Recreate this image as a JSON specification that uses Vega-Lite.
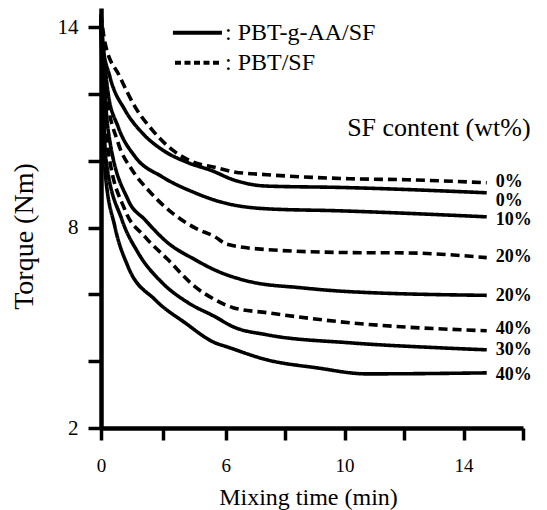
{
  "$schema": "https://vega.github.io/schema/vega-lite/v6.json",
  "width": 422,
  "height": 420,
  "autosize": "none",
  "padding": {"left": 101, "top": 8, "right": 24, "bottom": 82},
  "background": "white",
  "config": {
    "view": {"stroke": null},
    "axis": {"grid": false, "domainColor": "black", "tickColor": "black", "labelColor": "black", "titleColor": "black", "labelFont": "'Liberation Serif', 'DejaVu Serif', serif", "titleFont": "'Liberation Serif', 'DejaVu Serif', serif", "titleFontWeight": "normal"}
  },
  "datasets": {
    "curves": [
      {"type": "PBT/SF", "sf": "0%", "t": 0, "torque": 14.4},
      {"type": "PBT/SF", "sf": "0%", "t": 0.19, "torque": 13.53},
      {"type": "PBT/SF", "sf": "0%", "t": 0.91, "torque": 12.51},
      {"type": "PBT/SF", "sf": "0%", "t": 1.64, "torque": 11.61},
      {"type": "PBT/SF", "sf": "0%", "t": 2.45, "torque": 10.93},
      {"type": "PBT/SF", "sf": "0%", "t": 3.42, "torque": 10.33},
      {"type": "PBT/SF", "sf": "0%", "t": 4.52, "torque": 9.94},
      {"type": "PBT/SF", "sf": "0%", "t": 5.34, "torque": 9.82},
      {"type": "PBT/SF", "sf": "0%", "t": 6.25, "torque": 9.67},
      {"type": "PBT/SF", "sf": "0%", "t": 7.39, "torque": 9.58},
      {"type": "PBT/SF", "sf": "0%", "t": 8.5, "torque": 9.52},
      {"type": "PBT/SF", "sf": "0%", "t": 10.17, "torque": 9.46},
      {"type": "PBT/SF", "sf": "0%", "t": 12.09, "torque": 9.43},
      {"type": "PBT/SF", "sf": "0%", "t": 14.78, "torque": 9.34},

      {"type": "PBT-g-AA/SF", "sf": "0%", "t": 0, "torque": 14.37},
      {"type": "PBT-g-AA/SF", "sf": "0%", "t": 0.05, "torque": 13.62},
      {"type": "PBT-g-AA/SF", "sf": "0%", "t": 0.43, "torque": 12.51},
      {"type": "PBT-g-AA/SF", "sf": "0%", "t": 1.15, "torque": 11.52},
      {"type": "PBT-g-AA/SF", "sf": "0%", "t": 1.97, "torque": 10.84},
      {"type": "PBT-g-AA/SF", "sf": "0%", "t": 2.94, "torque": 10.33},
      {"type": "PBT-g-AA/SF", "sf": "0%", "t": 4.19, "torque": 9.94},
      {"type": "PBT-g-AA/SF", "sf": "0%", "t": 5.34, "torque": 9.7},
      {"type": "PBT-g-AA/SF", "sf": "0%", "t": 6.25, "torque": 9.43},
      {"type": "PBT-g-AA/SF", "sf": "0%", "t": 7.39, "torque": 9.24},
      {"type": "PBT-g-AA/SF", "sf": "0%", "t": 9.84, "torque": 9.2},
      {"type": "PBT-g-AA/SF", "sf": "0%", "t": 14.78, "torque": 9.04},

      {"type": "PBT-g-AA/SF", "sf": "10%", "t": 0, "torque": 14.28},
      {"type": "PBT-g-AA/SF", "sf": "10%", "t": 0.14, "torque": 13.2},
      {"type": "PBT-g-AA/SF", "sf": "10%", "t": 0.34, "torque": 12.03},
      {"type": "PBT-g-AA/SF", "sf": "10%", "t": 0.82, "torque": 11.02},
      {"type": "PBT-g-AA/SF", "sf": "10%", "t": 1.64, "torque": 10.12},
      {"type": "PBT-g-AA/SF", "sf": "10%", "t": 2.94, "torque": 9.52},
      {"type": "PBT-g-AA/SF", "sf": "10%", "t": 4.52, "torque": 9.04},
      {"type": "PBT-g-AA/SF", "sf": "10%", "t": 5.73, "torque": 8.77},
      {"type": "PBT-g-AA/SF", "sf": "10%", "t": 7.39, "torque": 8.56},
      {"type": "PBT-g-AA/SF", "sf": "10%", "t": 9.84, "torque": 8.5},
      {"type": "PBT-g-AA/SF", "sf": "10%", "t": 14.78, "torque": 8.32},

      {"type": "PBT/SF", "sf": "20%", "t": 0, "torque": 14.28},
      {"type": "PBT/SF", "sf": "20%", "t": 0.24, "torque": 12.12},
      {"type": "PBT/SF", "sf": "20%", "t": 0.82, "torque": 10.54},
      {"type": "PBT/SF", "sf": "20%", "t": 1.49, "torque": 9.73},
      {"type": "PBT/SF", "sf": "20%", "t": 2.26, "torque": 9.13},
      {"type": "PBT/SF", "sf": "20%", "t": 3.42, "torque": 8.44},
      {"type": "PBT/SF", "sf": "20%", "t": 4.52, "torque": 7.99},
      {"type": "PBT/SF", "sf": "20%", "t": 5.49, "torque": 7.72},
      {"type": "PBT/SF", "sf": "20%", "t": 6.04, "torque": 7.5},
      {"type": "PBT/SF", "sf": "20%", "t": 7.39, "torque": 7.34},
      {"type": "PBT/SF", "sf": "20%", "t": 10.17, "torque": 7.25},
      {"type": "PBT/SF", "sf": "20%", "t": 12.09, "torque": 7.24},
      {"type": "PBT/SF", "sf": "20%", "t": 14.78, "torque": 7.1},

      {"type": "PBT-g-AA/SF", "sf": "20%", "t": 0, "torque": 14.22},
      {"type": "PBT-g-AA/SF", "sf": "20%", "t": 0.34, "torque": 10.93},
      {"type": "PBT-g-AA/SF", "sf": "20%", "t": 1.3, "torque": 8.83},
      {"type": "PBT-g-AA/SF", "sf": "20%", "t": 2.12, "torque": 8.23},
      {"type": "PBT-g-AA/SF", "sf": "20%", "t": 3.22, "torque": 7.54},
      {"type": "PBT-g-AA/SF", "sf": "20%", "t": 4.52, "torque": 7.04},
      {"type": "PBT-g-AA/SF", "sf": "20%", "t": 5.58, "torque": 6.7},
      {"type": "PBT-g-AA/SF", "sf": "20%", "t": 6.82, "torque": 6.38},
      {"type": "PBT-g-AA/SF", "sf": "20%", "t": 8.5, "torque": 6.2},
      {"type": "PBT-g-AA/SF", "sf": "20%", "t": 10.17, "torque": 6.08},
      {"type": "PBT-g-AA/SF", "sf": "20%", "t": 14.78, "torque": 5.97},

      {"type": "PBT/SF", "sf": "40%", "t": 0, "torque": 14.16},
      {"type": "PBT/SF", "sf": "40%", "t": 0.34, "torque": 10.33},
      {"type": "PBT/SF", "sf": "40%", "t": 1.15, "torque": 8.53},
      {"type": "PBT/SF", "sf": "40%", "t": 2.12, "torque": 7.72},
      {"type": "PBT/SF", "sf": "40%", "t": 3.22, "torque": 7.04},
      {"type": "PBT/SF", "sf": "40%", "t": 4.52, "torque": 6.23},
      {"type": "PBT/SF", "sf": "40%", "t": 5.49, "torque": 5.84},
      {"type": "PBT/SF", "sf": "40%", "t": 6.25, "torque": 5.6},
      {"type": "PBT/SF", "sf": "40%", "t": 7.39, "torque": 5.45},
      {"type": "PBT/SF", "sf": "40%", "t": 10.17, "torque": 5.15},
      {"type": "PBT/SF", "sf": "40%", "t": 14.78, "torque": 4.91},

      {"type": "PBT-g-AA/SF", "sf": "30%", "t": 0, "torque": 14.16},
      {"type": "PBT-g-AA/SF", "sf": "30%", "t": 0.24, "torque": 10.03},
      {"type": "PBT-g-AA/SF", "sf": "30%", "t": 1.01, "torque": 8.23},
      {"type": "PBT-g-AA/SF", "sf": "30%", "t": 1.78, "torque": 7.25},
      {"type": "PBT-g-AA/SF", "sf": "30%", "t": 2.94, "torque": 6.35},
      {"type": "PBT-g-AA/SF", "sf": "30%", "t": 4.19, "torque": 5.75},
      {"type": "PBT-g-AA/SF", "sf": "30%", "t": 5.49, "torque": 5.33},
      {"type": "PBT-g-AA/SF", "sf": "30%", "t": 6.25, "torque": 5.03},
      {"type": "PBT-g-AA/SF", "sf": "30%", "t": 7.39, "torque": 4.79},
      {"type": "PBT-g-AA/SF", "sf": "30%", "t": 10.17, "torque": 4.55},
      {"type": "PBT-g-AA/SF", "sf": "30%", "t": 13.2, "torque": 4.4},
      {"type": "PBT-g-AA/SF", "sf": "30%", "t": 14.78, "torque": 4.34},

      {"type": "PBT-g-AA/SF", "sf": "40%", "t": 0, "torque": 14.16},
      {"type": "PBT-g-AA/SF", "sf": "40%", "t": 0.19, "torque": 9.73},
      {"type": "PBT-g-AA/SF", "sf": "40%", "t": 0.67, "torque": 8.02},
      {"type": "PBT-g-AA/SF", "sf": "40%", "t": 1.3, "torque": 6.83},
      {"type": "PBT-g-AA/SF", "sf": "40%", "t": 2.6, "torque": 5.84},
      {"type": "PBT-g-AA/SF", "sf": "40%", "t": 4.04, "torque": 5.15},
      {"type": "PBT-g-AA/SF", "sf": "40%", "t": 5.49, "torque": 4.55},
      {"type": "PBT-g-AA/SF", "sf": "40%", "t": 6.04, "torque": 4.43},
      {"type": "PBT-g-AA/SF", "sf": "40%", "t": 7.39, "torque": 4.04},
      {"type": "PBT-g-AA/SF", "sf": "40%", "t": 9.07, "torque": 3.8},
      {"type": "PBT-g-AA/SF", "sf": "40%", "t": 10.74, "torque": 3.62},
      {"type": "PBT-g-AA/SF", "sf": "40%", "t": 14.78, "torque": 3.65}
    ],
    "labels": [
      {"label": "0%", "t": 14.78, "torque": 9.37},
      {"label": "0%", "t": 14.78, "torque": 8.8},
      {"label": "10%", "t": 14.78, "torque": 8.22},
      {"label": "20%", "t": 14.78, "torque": 7.13},
      {"label": "20%", "t": 14.78, "torque": 5.94},
      {"label": "40%", "t": 14.78, "torque": 4.95},
      {"label": "30%", "t": 14.78, "torque": 4.32},
      {"label": "40%", "t": 14.78, "torque": 3.59}
    ],
    "legend": [
      {"type": "PBT-g-AA/SF", "t1": 3.46, "t2": 5.82, "torque": 13.83, "text": ": PBT-g-AA/SF"},
      {"type": "PBT/SF", "t1": 3.56, "t2": 5.82, "torque": 12.93, "text": ": PBT/SF"}
    ],
    "note": [
      {"text": "SF content (wt%)", "t": 13.17, "torque": 10.99}
    ]
  },
  "resolve": {"scale": {"strokeDash": "independent"}},
  "layer": [
    {
      "data": {"name": "curves"},
      "mark": {"type": "line", "color": "black", "strokeWidth": 3.6, "strokeCap": "butt", "strokeJoin": "round", "interpolate": "monotone"},
      "encoding": {
        "x": {
          "field": "t", "type": "quantitative",
          "scale": {"domain": [0, 6, 16], "range": [0, 124.7, 422], "nice": false, "zero": false},
          "axis": {
            "title": "Mixing time (min)",
            "values": [0, 3, 6, 8, 10, 12, 14, 16],
            "labelExpr": "(datum.value == 0 || datum.value == 6 || datum.value == 10 || datum.value == 14) ? datum.label : ''",
            "domainWidth": 4.5, "tickWidth": 3.5, "tickSize": 12,
            "labelFontSize": 19, "labelPadding": 16, "labelFlush": false,
            "titleFontSize": 24, "titleX": 207, "titleY": 69, "titleBaseline": "middle", "titleAlign": "center"
          }
        },
        "y": {
          "field": "torque", "type": "quantitative",
          "scale": {"domain": [2, 14.57], "nice": false, "zero": false},
          "axis": {
            "title": "Torque (Nm)",
            "values": [2, 4, 6, 8, 10, 12, 14],
            "labelExpr": "(datum.value == 2 || datum.value == 8 || datum.value == 14) ? datum.label : ''",
            "domainWidth": 4.5, "tickWidth": 3.5, "tickSize": 13,
            "labelFontSize": 21, "labelPadding": 10, "labelFlush": false,
            "titleFontSize": 28, "titleAngle": -90, "titleX": -77, "titleY": 228, "titleBaseline": "middle", "titleAlign": "center"
          }
        },
        "detail": {"field": "sf"},
        "strokeDash": {
          "field": "type", "type": "nominal",
          "scale": {"domain": ["PBT-g-AA/SF", "PBT/SF"], "range": [[1, 0], [9, 5]]},
          "legend": null
        }
      }
    },
    {
      "data": {"name": "legend"},
      "mark": {"type": "rule", "color": "black", "strokeWidth": 4, "strokeCap": "butt"},
      "encoding": {
        "x": {"field": "t1", "type": "quantitative"},
        "x2": {"field": "t2"},
        "y": {"field": "torque", "type": "quantitative"},
        "strokeDash": {
          "field": "type", "type": "nominal",
          "scale": {"domain": ["PBT-g-AA/SF", "PBT/SF"], "range": [[1, 0], [6, 3.5]]},
          "legend": null
        }
      }
    },
    {
      "data": {"name": "legend"},
      "mark": {"type": "text", "align": "left", "baseline": "middle", "dx": 3, "font": "'Liberation Serif', 'DejaVu Serif', serif", "fontSize": 24, "color": "black"},
      "encoding": {
        "x": {"field": "t2", "type": "quantitative"},
        "y": {"field": "torque", "type": "quantitative"},
        "text": {"field": "text"}
      }
    },
    {
      "data": {"name": "labels"},
      "mark": {"type": "text", "align": "left", "baseline": "middle", "dx": 9, "font": "'Liberation Serif', 'DejaVu Serif', serif", "fontSize": 18, "fontWeight": "bold", "color": "black"},
      "encoding": {
        "x": {"field": "t", "type": "quantitative"},
        "y": {"field": "torque", "type": "quantitative"},
        "text": {"field": "label"}
      }
    },
    {
      "data": {"name": "note"},
      "mark": {"type": "text", "align": "center", "baseline": "middle", "font": "'Liberation Serif', 'DejaVu Serif', serif", "fontSize": 26, "color": "black"},
      "encoding": {
        "x": {"field": "t", "type": "quantitative"},
        "y": {"field": "torque", "type": "quantitative"},
        "text": {"field": "text"}
      }
    }
  ]
}
